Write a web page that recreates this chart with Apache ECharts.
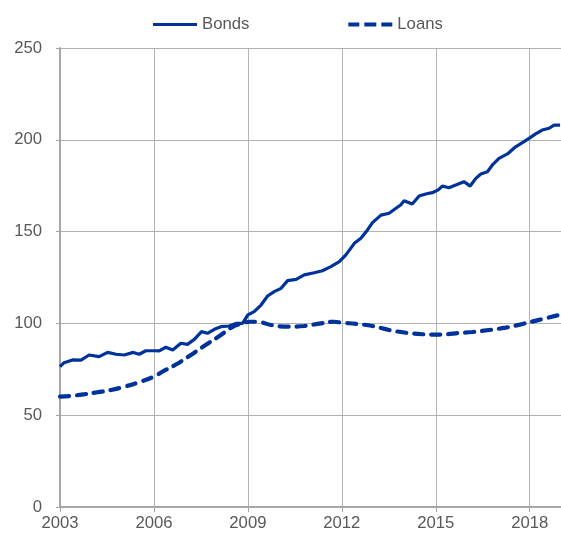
<!DOCTYPE html>
<html>
<head>
<meta charset="utf-8">
<script src="https://cdn.jsdelivr.net/npm/echarts@6/dist/echarts.min.js"></script>
<style>
html,body{margin:0;padding:0;background:#fff;}
#chart{width:561px;height:536px;}
</style>
</head>
<body>
<div id="chart"></div>
<script>
var seriesNames = ['Bonds', 'Loans'];
var xTickYears = [2003, 2006, 2009, 2012, 2015, 2018];
var yTicks = [0, 50, 100, 150, 200, 250];

var bondYears = [2003.0, 2003.13, 2003.4, 2003.67, 2003.93, 2004.25, 2004.52, 2004.79, 2005.05, 2005.34, 2005.53, 2005.74, 2006.0, 2006.17, 2006.38, 2006.6, 2006.86, 2007.07, 2007.29, 2007.52, 2007.71, 2007.93, 2008.14, 2008.4, 2008.62, 2008.83, 2009.0, 2009.2, 2009.42, 2009.63, 2009.84, 2010.06, 2010.27, 2010.54, 2010.8, 2011.12, 2011.38, 2011.65, 2011.92, 2012.13, 2012.4, 2012.61, 2012.82, 2012.98, 2013.25, 2013.51, 2013.73, 2013.88, 2013.99, 2014.25, 2014.47, 2014.68, 2014.89, 2015.08, 2015.21, 2015.42, 2015.64, 2015.9, 2016.1, 2016.28, 2016.44, 2016.65, 2016.81, 2017.02, 2017.29, 2017.55, 2017.82, 2017.98, 2018.19, 2018.4, 2018.62, 2018.78, 2018.97];
var bondValues = [76.4, 78.6, 80.1, 80.0, 82.8, 81.9, 84.2, 83.2, 82.8, 84.2, 83.2, 85.1, 85.1, 85.0, 87.0, 85.5, 89.2, 88.6, 91.3, 95.5, 94.6, 96.8, 98.2, 98.6, 100, 100, 104.6, 106.4, 110, 114.9, 117.3, 119.1, 123.3, 124, 126.4, 127.6, 128.7, 130.9, 133.6, 137.3, 143.6, 146.4, 150.9, 154.9, 159, 160, 162.7, 164.5, 166.8, 165, 169.4, 170.5, 171.2, 172.7, 174.8, 173.9, 175.4, 177.2, 174.8, 179, 181.4, 182.6, 186.3, 189.9, 192.3, 196.2, 199, 200.8, 203.2, 205.3, 206.3, 208, 208];

var loanYears = [2003.0, 2003.35, 2003.78, 2004.2, 2004.63, 2005.05, 2005.48, 2006.0, 2006.28, 2006.7, 2007.18, 2007.6, 2008.09, 2008.5, 2008.83, 2009.05, 2009.3, 2009.74, 2010.27, 2010.8, 2011.33, 2011.76, 2012.0, 2012.46, 2012.98, 2013.51, 2014.05, 2014.58, 2015.1, 2015.64, 2016.17, 2016.7, 2017.24, 2017.77, 2018.3, 2018.94];
var loanValues = [60.1, 60.5, 61.4, 62.5, 63.7, 65.5, 67.7, 71.0, 73.8, 77.6, 82.8, 87.7, 93.1, 98.0, 100, 100.9, 100.9, 99.1, 98.2, 98.6, 100, 100.9, 100.4, 99.7, 98.6, 96.4, 94.9, 94.1, 93.9, 94.6, 95.3, 96.4, 97.7, 99.7, 101.9, 104.6];

function pairs(xs, ys) {
  return xs.map(function (x, i) { return [x, ys[i]]; });
}

var textColor = '#595959';
var gridColor = '#b3b3b3';
var lineColor = '#003399';
var fontFam = '"Liberation Sans", Arial, sans-serif';
var fs = 16.7;

var chart = echarts.init(document.getElementById('chart'), null, {renderer: 'canvas'});
chart.setOption({
  animation: false,
  backgroundColor: '#ffffff',
  textStyle: {fontFamily: fontFam},
  legend: {
    left: 153,
    top: 16,
    padding: 0,
    itemWidth: 44,
    itemHeight: 4,
    itemGap: 99,
    textStyle: {color: textColor, fontSize: fs, fontFamily: fontFam},
    data: [
      {name: seriesNames[0], icon: 'path://M0,0.5h44v3h-44z'},
      {name: seriesNames[1], icon: 'path://M0,0h11v4h-11z M16,0h12v4h-12z M33,0h11v4h-11z'}
    ]
  },
  grid: {left: 60, right: 0, top: 48, bottom: 29, containLabel: false},
  xAxis: {
    type: 'value',
    min: xTickYears[0],
    max: 2019,
    interval: 3,
    axisLine: {show: true, lineStyle: {color: '#a6a6a6', width: 2}},
    axisTick: {show: true, length: 5, lineStyle: {color: '#a6a6a6', width: 1}},
    axisLabel: {
      color: textColor, fontSize: fs, margin: 8, showMaxLabel: false,
      fontFamily: fontFam,
      formatter: function (v) { return xTickYears.indexOf(v) >= 0 ? String(v) : ''; }
    },
    splitLine: {show: true, lineStyle: {color: gridColor, width: 1}}
  },
  yAxis: {
    type: 'value',
    min: yTicks[0],
    max: yTicks[yTicks.length - 1],
    interval: 50,
    axisLine: {show: true, lineStyle: {color: '#a6a6a6', width: 2}},
    axisTick: {show: true, length: 4, lineStyle: {color: '#a6a6a6', width: 1}},
    axisLabel: {color: textColor, fontSize: fs, margin: 18, fontFamily: fontFam},
    splitLine: {show: true, lineStyle: {color: gridColor, width: 1}}
  },
  series: [
    {
      name: seriesNames[0],
      type: 'line',
      data: pairs(bondYears, bondValues),
      symbol: 'none',
      smooth: false,
      lineStyle: {color: lineColor, width: 3.2},
      itemStyle: {color: lineColor}
    },
    {
      name: seriesNames[1],
      type: 'line',
      data: pairs(loanYears, loanValues),
      symbol: 'none',
      smooth: 0.4,
      lineStyle: {color: lineColor, width: 4.2, type: [9, 8], cap: 'round'},
      itemStyle: {color: lineColor}
    }
  ]
});
</script>
</body>
</html>
